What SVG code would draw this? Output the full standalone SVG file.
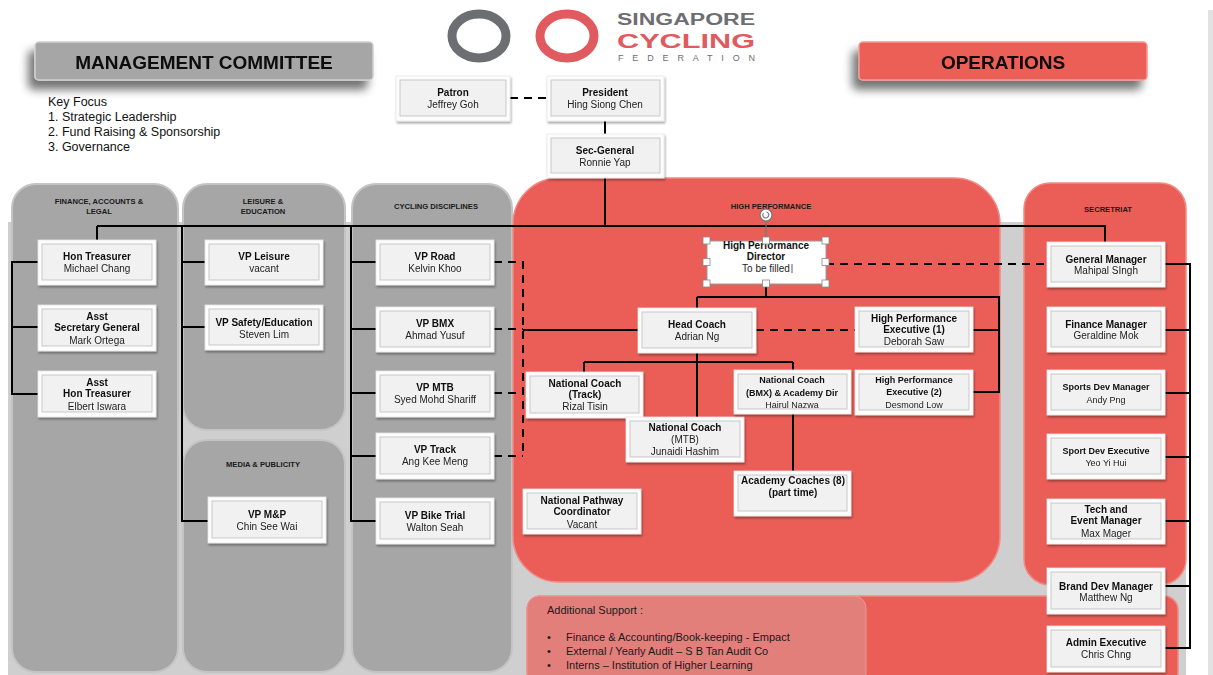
<svg xmlns="http://www.w3.org/2000/svg" width="1213" height="675" viewBox="0 0 1213 675">
<defs>
<style>
.t{font-family:"Liberation Sans",Arial,sans-serif;fill:#111;text-anchor:middle}
.b{font-weight:bold;font-size:10px}
.r{font-size:10px;fill:#222}
.s{font-size:9px}
.ct{font-family:"Liberation Sans",Arial,sans-serif;font-weight:bold;font-size:7.6px;fill:#1a1a1a;text-anchor:middle}
.hd{font-family:"Liberation Sans",Arial,sans-serif;font-weight:bold;font-size:19px;fill:#0a0a0a;text-anchor:middle}
.kf{font-family:"Liberation Sans",Arial,sans-serif;font-size:12.5px;fill:#111}
.as{font-family:"Liberation Sans",Arial,sans-serif;font-size:11px;fill:#1a1a1a}
.o{fill:#fdfdfd;stroke:#e6e6e6;stroke-width:0.8}
.i{fill:#f1f1f1;stroke:#c4c4c4;stroke-width:0.9}
.ln{fill:none;stroke:#000;stroke-width:2}
.ds{fill:none;stroke:#000;stroke-width:2;stroke-dasharray:8,6}
.col{fill:#a6a6a6;stroke:#c4c4c4;stroke-width:2}
.red{fill:#eb5e57;stroke:#f08a85;stroke-width:1.5}
.h{fill:#fff;stroke:#888;stroke-width:0.8}
</style>
<filter id="sh" x="-20%" y="-30%" width="140%" height="180%">
<feGaussianBlur in="SourceAlpha" stdDeviation="5"/>
<feOffset dx="-6" dy="9" result="b"/>
<feComponentTransfer><feFuncA type="linear" slope="0.55"/></feComponentTransfer>
<feMerge><feMergeNode/><feMergeNode in="SourceGraphic"/></feMerge>
</filter>
<filter id="nsh" x="-10%" y="-10%" width="130%" height="130%">
<feGaussianBlur in="SourceAlpha" stdDeviation="1.2"/>
<feOffset dx="1" dy="1.5"/>
<feComponentTransfer><feFuncA type="linear" slope="0.35"/></feComponentTransfer>
<feMerge><feMergeNode/><feMergeNode in="SourceGraphic"/></feMerge>
</filter>
</defs>
<rect width="1213" height="675" fill="#ffffff"/>
<rect x="1208" y="10" width="5" height="665" fill="#e2e2e2"/>

<!-- logo -->
<g id="logo">
<ellipse cx="479" cy="36" rx="27" ry="22" fill="none" stroke="#6d6e71" stroke-width="9"/>
<ellipse cx="567" cy="36" rx="27" ry="22" fill="none" stroke="#e05a5f" stroke-width="9"/>
<text x="617" y="25" font-family="Liberation Sans,Arial,sans-serif" font-weight="bold" font-size="16" fill="#6d6e71" textLength="138" lengthAdjust="spacingAndGlyphs">SINGAPORE</text>
<text x="617" y="48" font-family="Liberation Sans,Arial,sans-serif" font-weight="bold" font-size="21" fill="#e05a5f" textLength="138" lengthAdjust="spacingAndGlyphs">CYCLING</text>
<text x="618" y="61" font-family="Liberation Sans,Arial,sans-serif" font-size="9" fill="#6d6e71" textLength="137" lengthAdjust="spacing">FEDERATION</text>
</g>

<!-- headers -->
<g id="hdr-mc" filter="url(#sh)">
<rect x="35" y="42" width="338" height="38" rx="4" fill="#a6a6a6" stroke="#cfcfcf" stroke-width="1.5"/>
<text class="hd" x="204" y="69">MANAGEMENT COMMITTEE</text>
</g>
<g id="hdr-ops" filter="url(#sh)">
<rect x="859" y="42" width="288" height="38" rx="4" fill="#eb5e57" stroke="#f29a95" stroke-width="1.5"/>
<text class="hd" x="1003" y="69">OPERATIONS</text>
</g>
<g id="keyfocus">
<text class="kf" x="48" y="106">Key Focus</text>
<text class="kf" x="48" y="121">1. Strategic Leadership</text>
<text class="kf" x="48" y="136">2. Fund Raising &amp; Sponsorship</text>
<text class="kf" x="48" y="151">3. Governance</text>
</g>

<!-- background sections -->
<g id="sections">
<rect x="8" y="222" width="1178" height="453" fill="#cfcfcf"/>
<rect class="col" x="12" y="184" width="166" height="488" rx="24"/>
<rect class="col" x="183" y="184" width="162" height="246" rx="24"/>
<rect class="col" x="183" y="440" width="162" height="232" rx="24"/>
<rect class="col" x="352" y="184" width="160" height="488" rx="24"/>
<rect class="red" x="513" y="178" width="487" height="404" rx="46"/>
<rect class="red" x="1024" y="183" width="162" height="402" rx="26"/>
<rect class="red" x="527" y="596" width="651" height="90" rx="14"/>
<rect x="527" y="596" width="339" height="90" rx="12" fill="#e37f7b" stroke="#ea9995" stroke-width="1"/>
<text class="ct" x="99" y="204">FINANCE, ACCOUNTS &amp;</text>
<text class="ct" x="99" y="214">LEGAL</text>
<text class="ct" x="263" y="204">LEISURE &amp;</text>
<text class="ct" x="263" y="214">EDUCATION</text>
<text class="ct" x="263" y="467">MEDIA &amp; PUBLICITY</text>
<text class="ct" x="436" y="209">CYCLING DISCIPLINES</text>
<text class="ct" x="771" y="209">HIGH PERFORMANCE</text>
<text class="ct" x="1108" y="212">SECRETRIAT</text>
<text class="as" x="547" y="614">Additional Support :</text>
<text class="as" x="547" y="641">•</text>
<text class="as" x="566" y="641">Finance &amp; Accounting/Book-keeping - Empact</text>
<text class="as" x="547" y="655">•</text>
<text class="as" x="566" y="655">External / Yearly Audit – S B Tan Audit Co</text>
<text class="as" x="547" y="669">•</text>
<text class="as" x="566" y="669">Interns – Institution of Higher Learning</text>
</g>

<!-- connectors -->
<g id="connectors">
<path class="ds" d="M510 98H547"/>
<path class="ln" d="M605 121V134M605 178V226M97 226H1105V242M97 226V240"/>
<path class="ln" d="M38 262H12V394H38M12 327H38"/>
<path class="ln" d="M182 226V521H208M182 262H205M182 327H205"/>
<path class="ln" d="M351 226V521H376M351 262H376M351 329H376M351 393H376M351 456H376"/>
<path class="ds" d="M494 262H523V456M494 329H523M494 393H523M494 456H523"/>
<path class="ln" d="M523 330H638"/>
<path fill="none" stroke="#777" stroke-width="1.2" d="M766 221V241"/>
<path class="ln" d="M766 284V297M697 297H999V392H973M697 297V308M973 330H999"/>
<path class="ds" d="M826 264H1046"/>
<path class="ds" d="M756 330H855"/>
<path class="ln" d="M697 353V418M584 362H793M584 362V372M793 362V370M793 414V471"/>
<path class="ln" d="M1165 264H1190V648H1165M1165 330H1190M1165 393H1190M1165 457H1190M1165 521H1190M1165 586H1190"/>
</g>

<!-- nodes -->
<g id="n-patron" filter="url(#nsh)"><rect class="o" x="396" y="76" width="114" height="45"/><rect class="i" x="400" y="80" width="106" height="36"/><text class="t b" x="453" y="96">Patron</text><text class="t r" x="453" y="108">Jeffrey Goh</text></g>
<g id="n-president" filter="url(#nsh)"><rect class="o" x="547" y="76" width="117" height="45"/><rect class="i" x="551" y="80" width="109" height="36"/><text class="t b" x="605" y="96">President</text><text class="t r" x="605" y="108">Hing Siong Chen</text></g>
<g id="n-secgen" filter="url(#nsh)"><rect class="o" x="547" y="134" width="117" height="44"/><rect class="i" x="551" y="138" width="109" height="35"/><text class="t b" x="605" y="154">Sec-General</text><text class="t r" x="605" y="166">Ronnie Yap</text></g>

<g id="n-hontreas" filter="url(#nsh)"><rect class="o" x="38" y="240" width="118" height="45"/><rect class="i" x="42" y="244" width="110" height="36"/><text class="t b" x="97" y="260">Hon Treasurer</text><text class="t r" x="97" y="272">Michael Chang</text></g>
<g id="n-asstsg" filter="url(#nsh)"><rect class="o" x="38" y="305" width="118" height="46"/><rect class="i" x="42" y="309" width="110" height="37"/><text class="t b" x="97" y="320">Asst</text><text class="t b" x="97" y="331">Secretary General</text><text class="t r" x="97" y="344">Mark Ortega</text></g>
<g id="n-asstht" filter="url(#nsh)"><rect class="o" x="38" y="371" width="118" height="46"/><rect class="i" x="42" y="375" width="110" height="37"/><text class="t b" x="97" y="386">Asst</text><text class="t b" x="97" y="397">Hon Treasurer</text><text class="t r" x="97" y="410">Elbert Iswara</text></g>

<g id="n-vpleisure" filter="url(#nsh)"><rect class="o" x="205" y="240" width="118" height="45"/><rect class="i" x="209" y="244" width="110" height="36"/><text class="t b" x="264" y="260">VP Leisure</text><text class="t r" x="264" y="272">vacant</text></g>
<g id="n-vpsafety" filter="url(#nsh)"><rect class="o" x="205" y="305" width="118" height="45"/><rect class="i" x="209" y="309" width="110" height="36"/><text class="t b" x="264" y="326">VP Safety/Education</text><text class="t r" x="264" y="338">Steven Lim</text></g>
<g id="n-vpmp" filter="url(#nsh)"><rect class="o" x="208" y="497" width="118" height="46"/><rect class="i" x="212" y="501" width="110" height="37"/><text class="t b" x="267" y="518">VP M&amp;P</text><text class="t r" x="267" y="530">Chin See Wai</text></g>

<g id="n-vproad" filter="url(#nsh)"><rect class="o" x="376" y="240" width="118" height="45"/><rect class="i" x="380" y="244" width="110" height="36"/><text class="t b" x="435" y="260">VP Road</text><text class="t r" x="435" y="272">Kelvin Khoo</text></g>
<g id="n-vpbmx" filter="url(#nsh)"><rect class="o" x="376" y="307" width="118" height="45"/><rect class="i" x="380" y="311" width="110" height="36"/><text class="t b" x="435" y="327">VP BMX</text><text class="t r" x="435" y="339">Ahmad Yusuf</text></g>
<g id="n-vpmtb" filter="url(#nsh)"><rect class="o" x="376" y="371" width="118" height="46"/><rect class="i" x="380" y="375" width="110" height="37"/><text class="t b" x="435" y="391">VP MTB</text><text class="t r" x="435" y="403">Syed Mohd Shariff</text></g>
<g id="n-vptrack" filter="url(#nsh)"><rect class="o" x="376" y="433" width="118" height="46"/><rect class="i" x="380" y="437" width="110" height="37"/><text class="t b" x="435" y="453">VP Track</text><text class="t r" x="435" y="465">Ang Kee Meng</text></g>
<g id="n-vpbike" filter="url(#nsh)"><rect class="o" x="376" y="498" width="118" height="46"/><rect class="i" x="380" y="502" width="110" height="37"/><text class="t b" x="435" y="519">VP Bike Trial</text><text class="t r" x="435" y="531">Walton Seah</text></g>

<g id="n-hpd">
<rect x="707" y="241" width="119" height="43" fill="#ffffff" stroke="#9a9a9a" stroke-width="1"/>
<text class="t b" x="766" y="249">High Performance</text>
<text class="t b" x="766" y="260">Director</text>
<text class="t r" x="766" y="272">To be filled</text>
<path d="M792 264V273" stroke="#333" stroke-width="0.8"/>
<circle cx="766" cy="215" r="6" fill="#fff" stroke="#777" stroke-width="1.2"/>
<path d="M763.5 213a3 3 0 1 0 3-1" fill="none" stroke="#777" stroke-width="1.1"/>
<rect class="h" x="703" y="237" width="7" height="7"/><rect class="h" x="762.5" y="237" width="7" height="7"/><rect class="h" x="822" y="237" width="7" height="7"/>
<rect class="h" x="703" y="258.5" width="7" height="7"/><rect class="h" x="822" y="258.5" width="7" height="7"/>
<rect class="h" x="703" y="280" width="7" height="7"/><rect class="h" x="762.5" y="280" width="7" height="7"/><rect class="h" x="822" y="280" width="7" height="7"/>
</g>
<g id="n-headcoach" filter="url(#nsh)"><rect class="o" x="638" y="308" width="118" height="45"/><rect class="i" x="642" y="312" width="110" height="36"/><text class="t b" x="697" y="328">Head Coach</text><text class="t r" x="697" y="340">Adrian Ng</text></g>
<g id="n-hpe1" filter="url(#nsh)"><rect class="o" x="855" y="307" width="118" height="45"/><rect class="i" x="859" y="311" width="110" height="36"/><text class="t b" x="914" y="322">High Performance</text><text class="t b" x="914" y="333">Executive (1)</text><text class="t r" x="914" y="345">Deborah Saw</text></g>
<g id="n-hpe2" filter="url(#nsh)"><rect class="o" x="855" y="370" width="118" height="45"/><rect class="i" x="859" y="374" width="110" height="36"/><text class="t b s" x="914" y="383">High Performance</text><text class="t b s" x="914" y="395">Executive (2)</text><text class="t r s" x="914" y="408">Desmond Low</text></g>
<g id="n-nctrack" filter="url(#nsh)"><rect class="o" x="526" y="372" width="117" height="46"/><rect class="i" x="530" y="376" width="109" height="37"/><text class="t b" x="585" y="387">National Coach</text><text class="t b" x="585" y="398">(Track)</text><text class="t r" x="585" y="410">Rizal Tisin</text></g>
<g id="n-ncmtb" filter="url(#nsh)"><rect class="o" x="626" y="417" width="118" height="45"/><rect class="i" x="630" y="421" width="110" height="36"/><text class="t b" x="685" y="431">National Coach</text><text class="t r" x="685" y="443">(MTB)</text><text class="t r" x="685" y="455">Junaidi Hashim</text></g>
<g id="n-ncbmx" filter="url(#nsh)"><rect class="o" x="734" y="370" width="117" height="44"/><rect class="i" x="738" y="374" width="109" height="35"/><text class="t b s" x="792" y="383">National Coach</text><text class="t b s" x="792" y="396">(BMX) &amp; Academy Dir</text><text class="t r s" x="792" y="408">Hairul Nazwa</text></g>
<g id="n-academy" filter="url(#nsh)"><rect class="o" x="734" y="471" width="117" height="45"/><rect class="i" x="738" y="475" width="109" height="36"/><text class="t b" x="793" y="484">Academy Coaches (8)</text><text class="t b" x="793" y="496">(part time)</text></g>
<g id="n-pathway" filter="url(#nsh)"><rect class="o" x="523" y="489" width="118" height="45"/><rect class="i" x="527" y="493" width="110" height="36"/><text class="t b" x="582" y="504">National Pathway</text><text class="t b" x="582" y="515">Coordinator</text><text class="t r" x="582" y="528">Vacant</text></g>

<g id="n-gm" filter="url(#nsh)"><rect class="o" x="1047" y="242" width="118" height="45"/><rect class="i" x="1051" y="246" width="110" height="36"/><text class="t b" x="1106" y="263">General Manager</text><text class="t r" x="1106" y="274">Mahipal SIngh</text></g>
<g id="n-fm" filter="url(#nsh)"><rect class="o" x="1047" y="307" width="118" height="45"/><rect class="i" x="1051" y="311" width="110" height="36"/><text class="t b" x="1106" y="328">Finance Manager</text><text class="t r" x="1106" y="339">Geraldine Mok</text></g>
<g id="n-sdm" filter="url(#nsh)"><rect class="o" x="1047" y="370" width="118" height="45"/><rect class="i" x="1051" y="374" width="110" height="36"/><text class="t b s" x="1106" y="390">Sports Dev Manager</text><text class="t r s" x="1106" y="403">Andy Png</text></g>
<g id="n-sde" filter="url(#nsh)"><rect class="o" x="1047" y="434" width="118" height="45"/><rect class="i" x="1051" y="438" width="110" height="36"/><text class="t b s" x="1106" y="454">Sport Dev Executive</text><text class="t r s" x="1106" y="466">Yeo Yi Hui</text></g>
<g id="n-tem" filter="url(#nsh)"><rect class="o" x="1047" y="499" width="118" height="45"/><rect class="i" x="1051" y="503" width="110" height="36"/><text class="t b" x="1106" y="513">Tech and</text><text class="t b" x="1106" y="524">Event Manager</text><text class="t r" x="1106" y="537">Max Mager</text></g>
<g id="n-bdm" filter="url(#nsh)"><rect class="o" x="1047" y="568" width="118" height="46"/><rect class="i" x="1051" y="572" width="110" height="37"/><text class="t b" x="1106" y="590">Brand Dev Manager</text><text class="t r" x="1106" y="601">Matthew Ng</text></g>
<g id="n-admin" filter="url(#nsh)"><rect class="o" x="1047" y="626" width="118" height="46"/><rect class="i" x="1051" y="630" width="110" height="37"/><text class="t b" x="1106" y="646">Admin Executive</text><text class="t r" x="1106" y="658">Chris Chng</text></g>
</svg>
